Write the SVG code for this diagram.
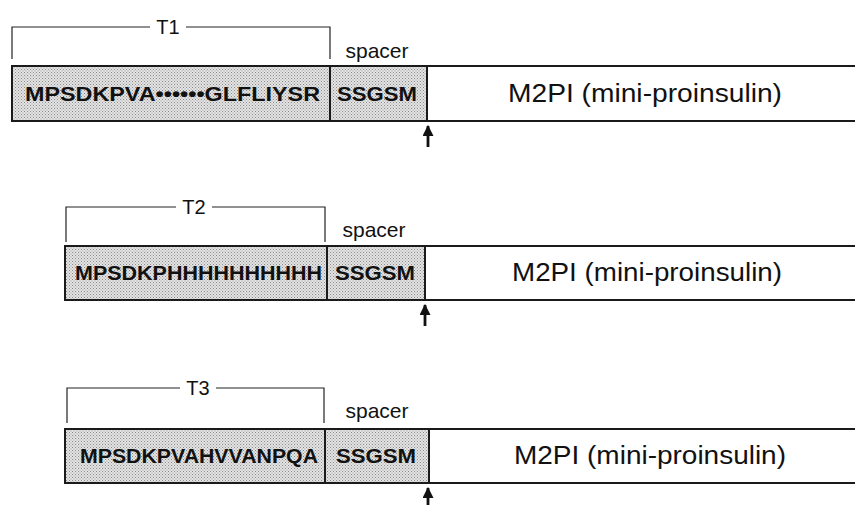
<svg xmlns="http://www.w3.org/2000/svg" width="855" height="505" viewBox="0 0 855 505">
<defs>
<pattern id="stip" width="3" height="3" patternUnits="userSpaceOnUse">
<rect width="3" height="3" fill="#e4e4e4"/>
<rect x="0" y="0" width="1" height="1" fill="#8a8a8a"/>
<rect x="1.5" y="1.5" width="1" height="1" fill="#9a9a9a"/>
</pattern>
<marker id="ah" viewBox="0 0 10 10" refX="9" refY="5" markerWidth="11" markerHeight="11" markerUnits="userSpaceOnUse" orient="auto">
<path d="M0,0 L10,5 L0,10 Z" fill="#111"/>
</marker>
</defs>
<style>
.seg{fill:url(#stip);stroke:#1a1a1a;stroke-width:2}
.edge{fill:none;stroke:#1a1a1a;stroke-width:2}
.br{fill:none;stroke:#222;stroke-width:1.2}
.seq{font-family:"Liberation Sans",Arial,sans-serif;font-weight:bold;font-size:20px;fill:#111;text-anchor:middle}
.lbl{font-family:"Liberation Sans",Arial,sans-serif;font-size:21px;fill:#111;text-anchor:middle}
.tl{font-family:"Liberation Sans",Arial,sans-serif;font-size:20px;fill:#111;text-anchor:middle}
.big{font-family:"Liberation Sans",Arial,sans-serif;font-size:25px;fill:#111;text-anchor:middle}
.arr{stroke:#111;stroke-width:2.8;fill:none}
</style>

<!-- Row 1 -->
<g id="row1">
<g id="t1-bracket">
<path class="br" d="M12,59 V27 H150 M186,27 H330 V59"/>
<text class="tl" x="168" y="34">T1</text>
</g>
<g id="t1">
<rect class="seg" x="12" y="66" width="318" height="55"/>
<text class="seq" x="172.5" y="101" textLength="295" lengthAdjust="spacingAndGlyphs">MPSDKPVA••••••GLFLIYSR</text>
</g>
<g id="spacer1">
<text class="lbl" x="377" y="58">spacer</text>
<rect class="seg" x="330" y="66" width="97" height="55"/>
<text class="seq" x="377" y="101" textLength="80" lengthAdjust="spacingAndGlyphs">SSGSM</text>
</g>
<g id="m2pi1">
<path class="edge" d="M427,66 H856 M427,121 H856"/>
<text class="big" x="645" y="102" textLength="274" lengthAdjust="spacingAndGlyphs">M2PI  (mini-proinsulin)</text>
</g>
</g>

<!-- Row 2 -->
<g id="row2">
<g id="t2-bracket">
<path class="br" d="M66,242 V207 H176 M212,207 H325 V242"/>
<text class="tl" x="194" y="214">T2</text>
</g>
<g id="t2">
<rect class="seg" x="65" y="246" width="262" height="54"/>
<text class="seq" x="198.5" y="280" textLength="247" lengthAdjust="spacingAndGlyphs">MPSDKPHHHHHHHHHH</text>
</g>
<g id="spacer2">
<text class="lbl" x="374" y="237">spacer</text>
<rect class="seg" x="327" y="246" width="98" height="54"/>
<text class="seq" x="375" y="280" textLength="80" lengthAdjust="spacingAndGlyphs">SSGSM</text>
</g>
<g id="m2pi2">
<path class="edge" d="M425,246 H856 M425,300 H856"/>
<text class="big" x="647" y="281" textLength="270" lengthAdjust="spacingAndGlyphs">M2PI  (mini-proinsulin)</text>
</g>
</g>

<!-- Row 3 -->
<g id="row3">
<g id="t3-bracket">
<path class="br" d="M67,423 V388 H180 M216,388 H324 V423"/>
<text class="tl" x="198" y="395">T3</text>
</g>
<g id="t3">
<rect class="seg" x="65" y="429" width="260" height="54"/>
<text class="seq" x="199" y="463" textLength="238" lengthAdjust="spacingAndGlyphs">MPSDKPVAHVVANPQA</text>
</g>
<g id="spacer3">
<text class="lbl" x="377" y="418">spacer</text>
<rect class="seg" x="325" y="429" width="104" height="54"/>
<text class="seq" x="376" y="463" textLength="80" lengthAdjust="spacingAndGlyphs">SSGSM</text>
</g>
<g id="m2pi3">
<path class="edge" d="M429,429 H856 M429,483 H856"/>
<text class="big" x="650" y="464" textLength="272" lengthAdjust="spacingAndGlyphs">M2PI  (mini-proinsulin)</text>
</g>
</g>

<!-- Cleavage-site arrows -->
<g id="connectors">
<line class="arr" x1="428" y1="147" x2="428" y2="126" marker-end="url(#ah)"/>
<line class="arr" x1="425" y1="326" x2="425" y2="305" marker-end="url(#ah)"/>
<line class="arr" x1="428" y1="508" x2="428" y2="488" marker-end="url(#ah)"/>
</g>
</svg>
